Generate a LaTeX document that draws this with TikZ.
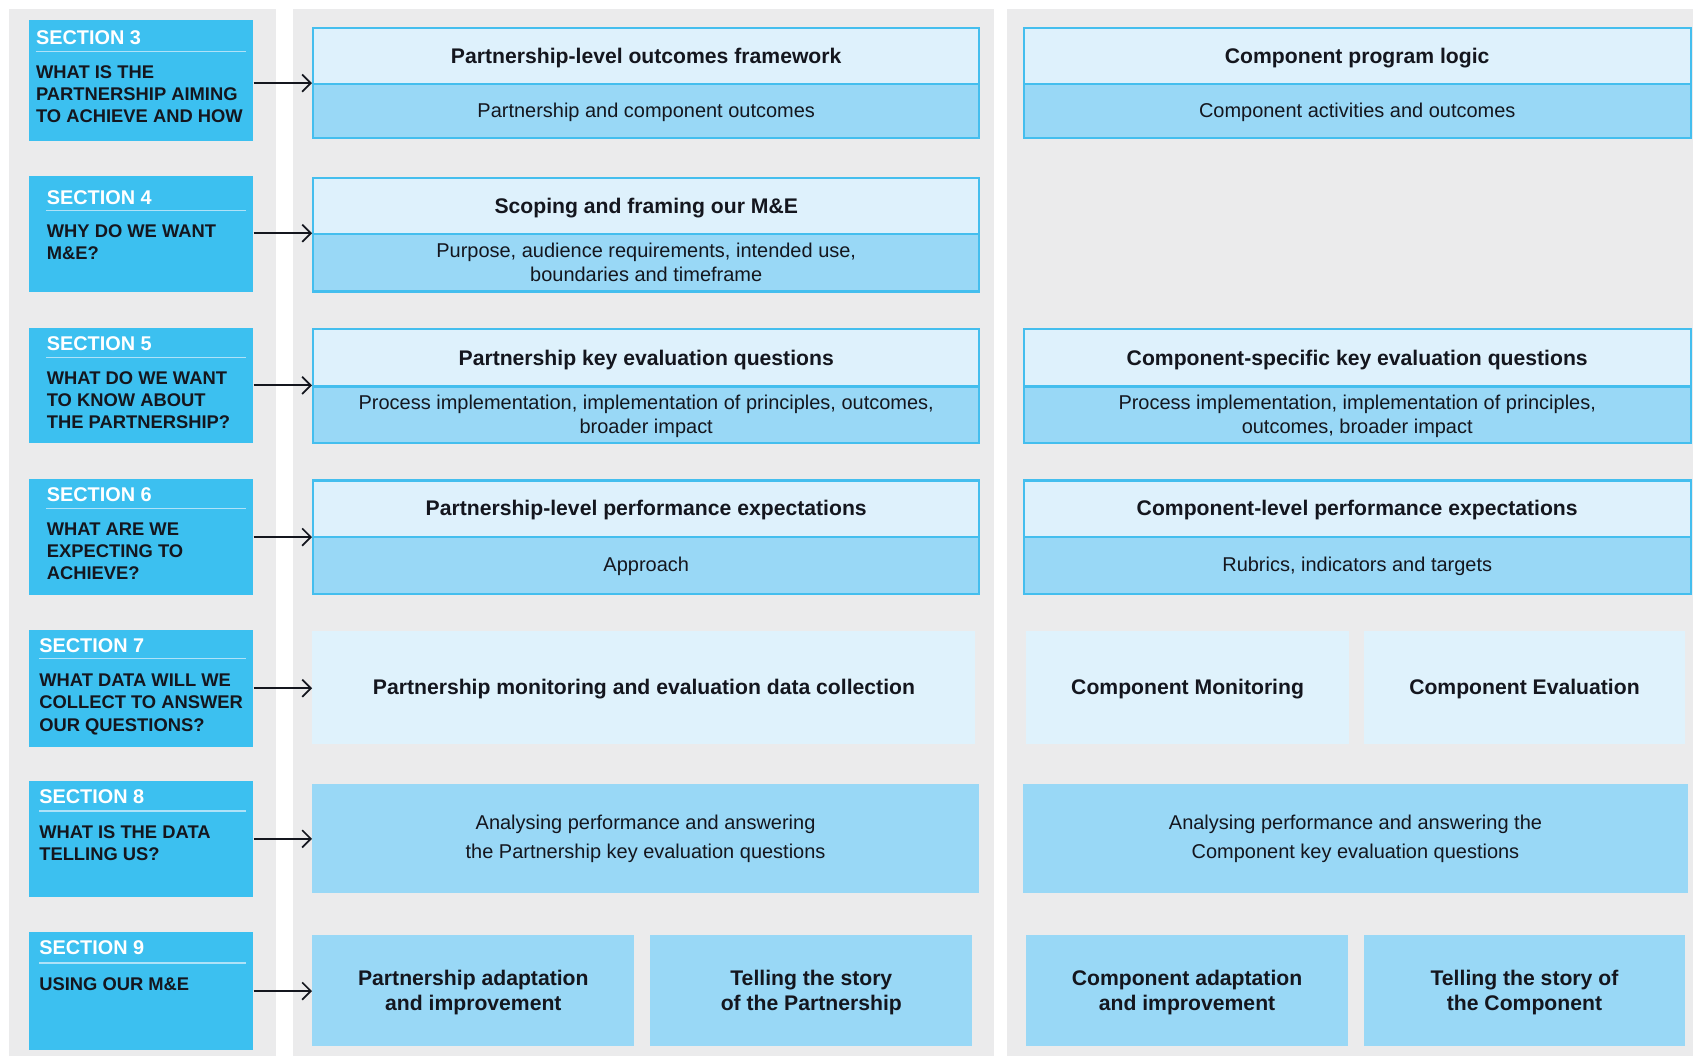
\documentclass[tikz,border=0pt]{standalone}
\usepackage{fontspec}
\setmainfont{Liberation Sans}
\usetikzlibrary{arrows.meta}
\definecolor{secc}{RGB}{60,192,240}
\definecolor{hdrc}{RGB}{222,241,252}
\definecolor{bodyc}{RGB}{153,216,246}
\definecolor{palec}{RGB}{223,242,252}
\definecolor{bordc}{RGB}{68,190,238}
\definecolor{panelc}{RGB}{235,235,236}
\definecolor{txtc}{RGB}{20,22,30}
\definecolor{ruled}{RGB}{175,226,248}
\newcommand\mycell[7]{\node[#2, anchor=north west, inner sep=0pt, minimum width={(#5-#3)*0.5pt}, minimum height={(#6-#4)*0.5pt}, align=center] (#1) at (#3,#4) {#7};}
\tikzset{
  panel/.style={fill=panelc, draw=none},
  secbox/.style={fill=secc, draw=none},
  hdr/.style={fill=hdrc, draw=bordc, line width=1pt, text=txtc, font=\fontsize{9.8}{12}\selectfont\bfseries, text depth=0.5pt},
  bdy/.style={fill=bodyc, draw=bordc, line width=1pt, text=txtc, font=\fontsize{9.25}{11}\selectfont, text depth=0.5pt},
  palebox/.style={fill=palec, draw=none, text=txtc, font=\fontsize{9.8}{12}\selectfont\bfseries, text depth=0.5pt},
  bluebox/.style={fill=bodyc, draw=none, text=txtc, font=\fontsize{9.25}{13}\selectfont},
  bluebold/.style={fill=bodyc, draw=none, text=txtc, font=\fontsize{9.8}{12}\selectfont\bfseries, text depth=0.2pt},
  sechead/.style={anchor=west, inner sep=0pt, text=white, font=\fontsize{9.2}{11}\selectfont\bfseries},
  secq/.style={anchor=north west, inner sep=0pt, align=left, text=txtc, font=\fontsize{8.5}{10.25}\selectfont\bfseries},
  secrule/.style={draw=ruled, line width=0.6pt},
  conn/.style={draw=txtc, line width=0.8pt, -{Straight Barb[length=4pt,width=8pt,line width=0.8pt]}}
}
\begin{document}
\begin{tikzpicture}[x=0.5pt,y=-0.5pt]
\useasboundingbox (0,0) rectangle (1568,978);
\fill[white] (0,0) rectangle (1568,978);
% panels
\mycell{pl}{panel}{8}{8}{255}{978}{}
\mycell{pm}{panel}{271}{8}{920}{978}{}
\mycell{pr}{panel}{932}{8}{1568}{978}{}

% ---------- section boxes ----------
\mycell{s3}{secbox}{26}{18}{234}{130}{}
\node[sechead] (s3t) at (33,35) {SECTION 3};
\draw[secrule] (s3t.west |- 0,48) -- (228,48);
\node[secq] (s3q) at (33,60) {WHAT IS THE\\PARTNERSHIP AIMING\\TO ACHIEVE AND HOW};

\mycell{s4}{secbox}{26}{163}{234}{270}{}
\node[sechead] (s4t) at (43,183) {SECTION 4};
\draw[secrule] (s4t.west |- 0,195) -- (228,195);
\node[secq] (s4q) at (43,208) {WHY DO WE WANT\\M\&E?};

\mycell{s5}{secbox}{26}{303}{234}{410}{}
\node[sechead] (s5t) at (43,318) {SECTION 5};
\draw[secrule] (s5t.west |- 0,331) -- (228,331);
\node[secq] (s5q) at (43,344) {WHAT DO WE WANT\\TO KNOW ABOUT\\THE PARTNERSHIP?};

\mycell{s6}{secbox}{26}{443}{234}{551}{}
\node[sechead] (s6t) at (43,458) {SECTION 6};
\draw[secrule] (s6t.west |- 0,471) -- (228,471);
\node[secq] (s6q) at (43,484) {WHAT ARE WE\\EXPECTING TO\\ACHIEVE?};

\mycell{s7}{secbox}{26}{583}{234}{691}{}
\node[sechead] (s7t) at (36,598) {SECTION 7};
\draw[secrule] (s7t.west |- 0,610) -- (228,610);
\node[secq] (s7q) at (36,624) {WHAT DATA WILL WE\\COLLECT TO ANSWER\\OUR QUESTIONS?};

\mycell{s8}{secbox}{26}{723}{234}{830}{}
\node[sechead] (s8t) at (36,738) {SECTION 8};
\draw[secrule] (s8t.west |- 0,751) -- (228,751);
\node[secq] (s8q) at (36,764) {WHAT IS THE DATA\\TELLING US?};

\mycell{s9}{secbox}{26}{863}{234}{972}{}
\node[sechead] (s9t) at (36,878) {SECTION 9};
\draw[secrule] (s9t.west |- 0,892) -- (228,892);
\node[secq] (s9q) at (36,905) {USING OUR M\&E};

% ---------- middle column ----------
\mycell{m3h}{hdr}{289}{25}{906}{77}{Partnership-level outcomes framework}
\mycell{m3b}{bdy}{289}{77}{906}{127}{Partnership and component outcomes}

\mycell{m4h}{hdr}{289}{164}{906}{216}{Scoping and framing our M\&E}
\mycell{m4b}{bdy}{289}{216}{906}{269}{Purpose, audience requirements, intended use,\\boundaries and timeframe}

\mycell{m5h}{hdr}{289}{304}{906}{357}{Partnership key evaluation questions}
\mycell{m5b}{bdy}{289}{357}{906}{409}{Process implementation, implementation of principles, outcomes,\\broader impact}

\mycell{m6h}{hdr}{289}{444}{906}{496}{Partnership-level performance expectations}
\mycell{m6b}{bdy}{289}{496}{906}{549}{Approach}

\mycell{m7}{palebox}{289}{584}{903}{689}{Partnership monitoring and evaluation data collection}

\mycell{m8}{bluebox}{289}{726}{906}{827}{Analysing performance and answering\\the Partnership key evaluation questions}

\mycell{m9a}{bluebold}{289}{866}{587}{968}{Partnership adaptation\\and improvement}
\mycell{m9b}{bluebold}{602}{866}{900}{968}{Telling the story\\of the Partnership}

% ---------- right column ----------
\mycell{r3h}{hdr}{947}{25}{1565}{77}{Component program logic}
\mycell{r3b}{bdy}{947}{77}{1565}{127}{Component activities and outcomes}

\mycell{r5h}{hdr}{947}{304}{1565}{357}{Component-specific key evaluation questions}
\mycell{r5b}{bdy}{947}{357}{1565}{409}{Process implementation, implementation of principles,\\outcomes, broader impact}

\mycell{r6h}{hdr}{947}{444}{1565}{496}{Component-level performance expectations}
\mycell{r6b}{bdy}{947}{496}{1565}{549}{Rubrics, indicators and targets}

\mycell{r7a}{palebox}{950}{584}{1249}{689}{Component Monitoring}
\mycell{r7b}{palebox}{1263}{584}{1560}{689}{Component Evaluation}

\mycell{r8}{bluebox}{947}{726}{1563}{827}{Analysing performance and answering the\\Component key evaluation questions}

\mycell{r9a}{bluebold}{950}{866}{1248}{968}{Component adaptation\\and improvement}
\mycell{r9b}{bluebold}{1263}{866}{1560}{968}{Telling the story of\\the Component}

% ---------- connectors ----------
\draw[conn] (s3.east |- m3b.north) -- (m3b.north west);
\draw[conn] (s4.east |- m4b.north) -- (m4b.north west);
\draw[conn] (s5.east) -- (s5.east -| m5b.west);
\draw[conn] (s6.east) -- (s6.east -| m6b.west);
\draw[conn] (s7.east) -- (s7.east -| m7.west);
\draw[conn] (s8.east) -- (s8.east -| m8.west);
\draw[conn] (s9.east) -- (s9.east -| m9a.west);
\end{tikzpicture}
\end{document}
